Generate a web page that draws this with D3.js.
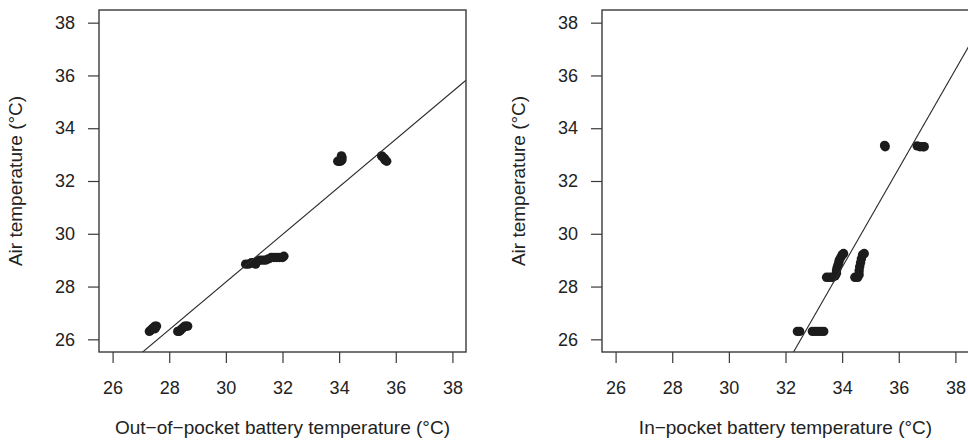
<!DOCTYPE html>
<html>
<head>
<meta charset="utf-8">
<script src="https://cdn.jsdelivr.net/npm/d3@7"></script>
<style>
  body { margin: 0; background: #fff; }
  svg text { font-family: "Liberation Sans", Arial, sans-serif; fill: #222; }
</style>
</head>
<body>
<div id="chart"></div>
<script>
// tick values shared by both panels
var ticks = [26, 28, 30, 32, 34, 36, 38];

// out-of-pocket panel
var outX = [27.3, 27.35, 27.4, 27.45, 27.5, 27.55, 27.5,
            28.3, 28.35, 28.4, 28.45, 28.5, 28.55, 28.6, 28.65,
            30.7, 30.8, 30.9, 31.0, 31.05, 31.1, 31.2, 31.3, 31.4, 31.5, 31.6, 31.7, 31.8, 31.9, 32.0, 32.05,
            33.95, 34.0, 34.05, 34.1, 34.1, 34.08,
            35.5, 35.55, 35.6, 35.62, 35.68];
var outY = [26.3, 26.35, 26.4, 26.45, 26.5, 26.5, 26.4,
            26.3, 26.3, 26.35, 26.4, 26.45, 26.5, 26.5, 26.5,
            28.85, 28.85, 28.9, 28.9, 28.85, 28.95, 29.0, 29.0, 29.0, 29.05, 29.1, 29.1, 29.1, 29.1, 29.1, 29.15,
            32.75, 32.75, 32.75, 32.8, 32.9, 32.95,
            32.95, 32.9, 32.85, 32.8, 32.75];
var outFit = { intercept: 1.11, slope: 0.902 };

// in-pocket panel
var inX = [32.42, 32.5, 32.95, 33.05, 33.15, 33.25, 33.35,
           33.45, 33.55, 33.65, 33.75, 33.8, 33.8, 33.82, 33.85, 33.88, 33.9, 33.95, 34.0, 34.05,
           34.45, 34.55, 34.6, 34.6, 34.62, 34.65, 34.68, 34.72, 34.78,
           35.52, 35.5,
           36.65, 36.75, 36.85, 36.9];
var inY = [26.3, 26.3, 26.3, 26.3, 26.3, 26.3, 26.3,
           28.35, 28.35, 28.35, 28.4, 28.5, 28.6, 28.7, 28.8, 28.9, 29.0, 29.1, 29.2, 29.25,
           28.35, 28.35, 28.45, 28.6, 28.75, 28.9, 29.05, 29.2, 29.25,
           33.3, 33.35,
           33.33, 33.3, 33.3, 33.3];
var inFit = { intercept: -34.95, slope: 1.873 };

var W = 968, H = 442;
var svg = d3.select("#chart").append("svg")
    .attr("width", W)
    .attr("height", H);

function drawPanel(left, xs, ys, fit, xTitle, id) {
    var w = 367, h = 342, top = 10;
    var g = svg.append("g").attr("transform", "translate(" + left + "," + top + ")");

    // R style: 4% padding around 26..38
    var x = d3.scaleLinear().domain([25.52, 38.48]).range([0, w]);
    var y = d3.scaleLinear().domain([25.52, 38.48]).range([h, 0]);

    g.append("clipPath").attr("id", "clip" + id)
        .append("rect").attr("width", w).attr("height", h);

    var pts = xs.map(function(d, i) { return [d, ys[i]]; });

    g.selectAll(".pt")
        .data(pts)
        .enter().append("circle")
        .attr("class", "pt")
        .attr("cx", function(d) { return x(d[0]); })
        .attr("cy", function(d) { return y(d[1]); })
        .attr("r", 4.7)
        .style("fill", "#1c1c1c");

    var x0 = x.domain()[0], x1 = x.domain()[1];
    g.append("line")
        .attr("clip-path", "url(#clip" + id + ")")
        .attr("x1", x(x0)).attr("y1", y(fit.intercept + fit.slope * x0))
        .attr("x2", x(x1)).attr("y2", y(fit.intercept + fit.slope * x1))
        .style("stroke", "#2a2a2a")
        .style("stroke-width", 1.1);

    g.append("rect")
        .attr("width", w).attr("height", h)
        .style("fill", "none")
        .style("stroke", "#3a3a3a")
        .style("stroke-width", 1.4);

    var xAxis = g.append("g")
        .attr("transform", "translate(0," + h + ")")
        .call(d3.axisBottom(x).tickValues(ticks).tickSize(11).tickPadding(18).tickFormat(d3.format("d")));
    var yAxis = g.append("g")
        .call(d3.axisLeft(y).tickValues(ticks).tickSize(11).tickPadding(13).tickFormat(d3.format("d")));

    [xAxis, yAxis].forEach(function(a) {
        a.select(".domain").remove();
        a.selectAll("line").style("stroke", "#3a3a3a").style("stroke-width", 1.2);
        a.selectAll("text").style("font-size", "18px").style("fill", "#222")
            .style("font-family", "'Liberation Sans', Arial, sans-serif");
    });

    g.append("text")
        .attr("x", w / 2)
        .attr("y", h + 82)
        .attr("text-anchor", "middle")
        .style("font-size", "19px")
        .text(xTitle);

    g.append("text")
        .attr("transform", "translate(" + (-77) + "," + (h / 2) + ") rotate(-90)")
        .attr("text-anchor", "middle")
        .style("font-size", "19px")
        .text("Air temperature (\u00B0C)");
}

drawPanel(99, outX, outY, outFit, "Out\u2212of\u2212pocket battery temperature (\u00B0C)", "a");
drawPanel(602, inX, inY, inFit, "In\u2212pocket battery temperature (\u00B0C)", "b");
</script>
</body>
</html>
